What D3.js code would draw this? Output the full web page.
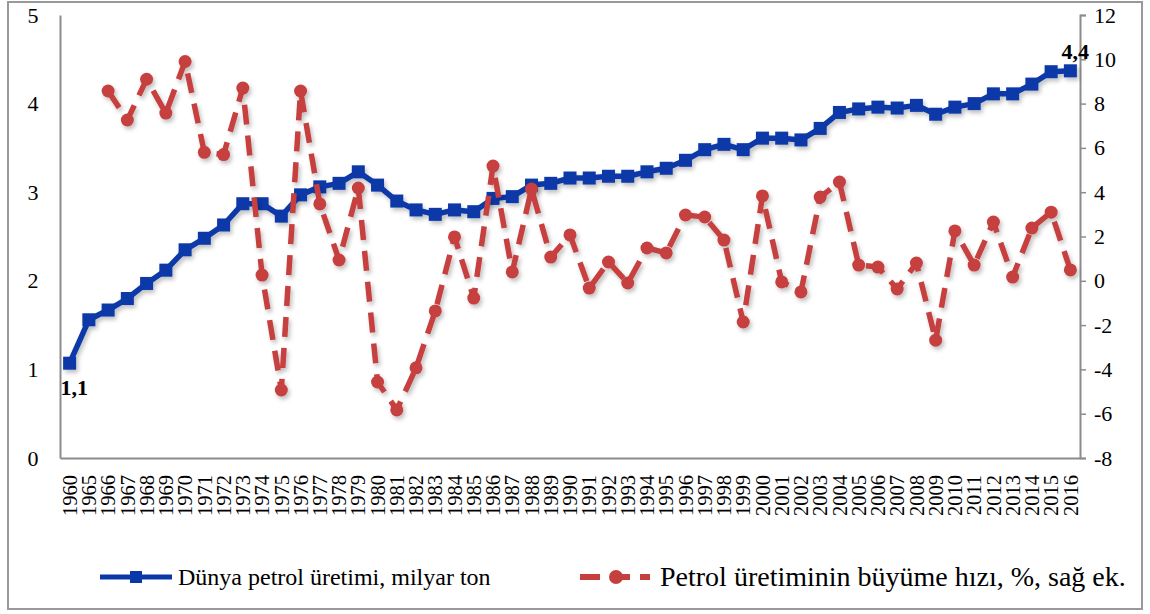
<!DOCTYPE html>
<html>
<head>
<meta charset="utf-8">
<script src="https://cdn.jsdelivr.net/npm/d3@7"></script>
<style>
  body { margin: 0; background: #fff; }
  svg text { font-family: "Liberation Serif", "Times New Roman", serif; fill: #000; }
  .tick-label { font-size: 22px; }
  .year-label { font-size: 20.5px; }
  .legend-text { font-size: 24px; }
  .legend-text.big { font-size: 28px; }
</style>
</head>
<body>
<div id="chart"></div>
<script>
const WIDTH = 1150;
const HEIGHT = 614;
const PLOT = {left: 60, right: 1080, top: 15, bottom: 458};

// years on the x axis (1960, then 1965 onwards)
const YEARS = ["1960", "1965", "1966", "1967", "1968", "1969", "1970", "1971", "1972", "1973",
  "1974", "1975", "1976", "1977", "1978", "1979", "1980", "1981", "1982", "1983",
  "1984", "1985", "1986", "1987", "1988", "1989", "1990", "1991", "1992", "1993",
  "1994", "1995", "1996", "1997", "1998", "1999", "2000", "2001", "2002", "2003",
  "2004", "2005", "2006", "2007", "2008", "2009", "2010", "2011", "2012", "2013",
  "2014", "2015", "2016"];

// world oil production, billion tons (left axis)
const PRODUCTION = [1.07, 1.56, 1.67, 1.80, 1.97, 2.12, 2.35, 2.48, 2.63, 2.87,
  2.87, 2.73, 2.97, 3.06, 3.10, 3.23, 3.08, 2.90, 2.80, 2.75,
  2.80, 2.78, 2.93, 2.95, 3.08, 3.10, 3.16, 3.16, 3.18, 3.18,
  3.23, 3.27, 3.36, 3.48, 3.54, 3.48, 3.61, 3.61, 3.59, 3.72,
  3.90, 3.94, 3.96, 3.95, 3.98, 3.88, 3.96, 4.00, 4.11, 4.11,
  4.22, 4.36, 4.37];

// growth rate of oil production, % (right axis)
const GROWTH = [null, null, 8.57, 7.26, 9.10, 7.57, 9.90, 5.80, 5.70, 8.70,
  0.26, -4.93, 8.57, 3.47, 0.94, 4.19, -4.57, -5.83, -3.93, -1.36,
  1.98, -0.78, 5.18, 0.40, 4.14, 1.07, 2.07, -0.33, 0.85, -0.10,
  1.48, 1.26, 2.97, 2.88, 1.84, -1.86, 3.83, -0.05, -0.50, 3.78,
  4.46, 0.71, 0.62, -0.37, 0.80, -2.68, 2.25, 0.71, 2.65, 0.17,
  2.38, 3.10, 0.49];

const LEFT_TICKS = [0, 1, 2, 3, 4, 5];
const RIGHT_TICKS = [-8, -6, -4, -2, 0, 2, 4, 6, 8, 10, 12];

const SERIES_NAMES = ["Dünya petrol üretimi, milyar ton", "Petrol üretiminin büyüme hızı, %, sağ ek."];

const BLUE = "#0a38a8";
const RED = "#c63f3f";
const AXIS_GREY = "#8c8c8c";
const SERIF = "'Liberation Serif', 'Times New Roman', serif";

const svg = d3.select("#chart")
  .append("svg")
  .attr("width", WIDTH)
  .attr("height", HEIGHT)
  .attr("font-family", SERIF);

// soft shadow under the lines, like the original
const defs = svg.append("defs");
defs.append("filter")
    .attr("id", "shadow")
    .attr("x", "-10%").attr("y", "-10%")
    .attr("width", "120%").attr("height", "130%")
  .append("feDropShadow")
    .attr("dx", 2).attr("dy", 3)
    .attr("stdDeviation", 2)
    .attr("flood-color", "#000")
    .attr("flood-opacity", 0.25);

// outer frame
svg.append("rect")
  .attr("x", 8).attr("y", 2)
  .attr("width", 1134).attr("height", 607)
  .attr("fill", "none")
  .attr("stroke", "#999")
  .attr("stroke-width", 2);

const X_SCALE = d3.scaleBand()
  .domain(YEARS)
  .range([PLOT.left, PLOT.right])
  .padding(0);

const xc = (d) => X_SCALE(d) + X_SCALE.bandwidth() / 2;

const Y_LEFT = d3.scaleLinear()
  .domain([0, 5])
  .range([PLOT.bottom, PLOT.top]);

const Y_RIGHT = d3.scaleLinear()
  .domain([-8, 12])
  .range([PLOT.bottom, PLOT.top]);

// left axis (no tick marks)
const leftAxis = svg.append("g")
  .attr("transform", "translate(" + PLOT.left + ",0)")
  .call(d3.axisLeft(Y_LEFT).tickValues(LEFT_TICKS).tickFormat(d3.format("d")).tickSize(0));
leftAxis.attr("font-family", null).attr("font-size", null);
leftAxis.select(".domain").attr("stroke", AXIS_GREY).attr("stroke-width", 2);
leftAxis.selectAll("text").attr("class", "tick-label")
  .attr("text-anchor", "middle").attr("x", -27);

// right axis, ticks pointing out
const rightAxis = svg.append("g")
  .attr("transform", "translate(" + PLOT.right + ",0)")
  .call(d3.axisRight(Y_RIGHT).tickValues(RIGHT_TICKS).tickFormat((d) => d).tickSizeInner(6).tickSizeOuter(6).tickPadding(8));
rightAxis.attr("font-family", null).attr("font-size", null);
rightAxis.select(".domain").attr("stroke", AXIS_GREY).attr("stroke-width", 2);
rightAxis.selectAll("line").attr("stroke", AXIS_GREY).attr("stroke-width", 1.5);
rightAxis.selectAll("text").attr("class", "tick-label");

// bottom axis with vertical year labels
const bottomAxis = svg.append("g")
  .attr("transform", "translate(0," + PLOT.bottom + ")")
  .call(d3.axisBottom(X_SCALE).tickSize(0));
bottomAxis.attr("font-family", null).attr("font-size", null);
bottomAxis.select(".domain").attr("stroke", AXIS_GREY).attr("stroke-width", 2);
bottomAxis.selectAll("text")
  .attr("class", "year-label")
  .attr("text-anchor", "end")
  .attr("dy", "0.35em")
  .attr("x", 0).attr("y", 0)
  .attr("transform", "translate(0,17) rotate(-90)");

const plot = svg.append("g");

// production line
const prodData = YEARS.map((y, i) => ({year: y, v: PRODUCTION[i]}));
const prodLine = d3.line()
  .x((d) => xc(d.year))
  .y((d) => Y_LEFT(d.v));

const prodGroup = plot.append("g").attr("filter", "url(#shadow)");
prodGroup.append("path")
  .datum(prodData)
  .attr("d", prodLine)
  .attr("fill", "none")
  .attr("stroke", BLUE)
  .attr("stroke-width", 5.5)
  .attr("stroke-linejoin", "round");

prodGroup.selectAll(".sq")
  .data(prodData)
  .enter()
  .append("rect")
    .attr("class", "sq")
    .attr("x", (d) => xc(d.year) - 6.5)
    .attr("y", (d) => Y_LEFT(d.v) - 6.5)
    .attr("width", 13)
    .attr("height", 13)
    .attr("fill", BLUE);

// growth line
const growthData = YEARS.map((y, i) => ({year: y, v: GROWTH[i]})).filter((d) => d.v !== null);
const growthLine = d3.line()
  .x((d) => xc(d.year))
  .y((d) => Y_RIGHT(d.v));

const growthGroup = plot.append("g").attr("filter", "url(#shadow)");
growthGroup.append("path")
  .datum(growthData)
  .attr("d", growthLine)
  .attr("fill", "none")
  .attr("stroke", RED)
  .attr("stroke-width", 5.5)
  .attr("stroke-dasharray", "20,11")
  .attr("stroke-linejoin", "round");

growthGroup.selectAll(".dot")
  .data(growthData)
  .enter()
  .append("circle")
    .attr("class", "dot")
    .attr("cx", (d) => xc(d.year))
    .attr("cy", (d) => Y_RIGHT(d.v))
    .attr("r", 6.5)
    .attr("fill", RED);

// end labels
const first = prodData[0];
const last = prodData[prodData.length - 1];
svg.append("text")
  .attr("x", xc(first.year) - 9)
  .attr("y", Y_LEFT(first.v) + 32)
  .attr("font-size", 22)
  .attr("font-weight", "bold")
  .text(d3.format(".1f")(first.v).replace(".", ","));
svg.append("text")
  .attr("x", xc(last.year) - 9)
  .attr("y", Y_LEFT(last.v) - 12)
  .attr("font-size", 22)
  .attr("font-weight", "bold")
  .text(d3.format(".1f")(last.v).replace(".", ","));

// legend
const legendY = 577;
const leg1 = svg.append("g");
leg1.append("line")
  .attr("x1", 100).attr("x2", 172)
  .attr("y1", legendY).attr("y2", legendY)
  .attr("stroke", BLUE).attr("stroke-width", 5);
leg1.append("rect")
  .attr("x", 130).attr("y", legendY - 6)
  .attr("width", 12).attr("height", 12)
  .attr("fill", BLUE);
leg1.append("text")
  .attr("class", "legend-text")
  .attr("x", 178).attr("y", legendY + 8)
  .text(SERIES_NAMES[0]);

const leg2 = svg.append("g");
leg2.append("line")
  .attr("x1", 580).attr("x2", 650)
  .attr("y1", legendY).attr("y2", legendY)
  .attr("stroke", RED).attr("stroke-width", 6)
  .attr("stroke-dasharray", "20,10");
leg2.append("circle")
  .attr("cx", 616).attr("cy", legendY)
  .attr("r", 7)
  .attr("fill", RED);
leg2.append("text")
  .attr("class", "legend-text big")
  .attr("x", 660).attr("y", legendY + 9)
  .text(SERIES_NAMES[1]);
</script>
</body>
</html>
